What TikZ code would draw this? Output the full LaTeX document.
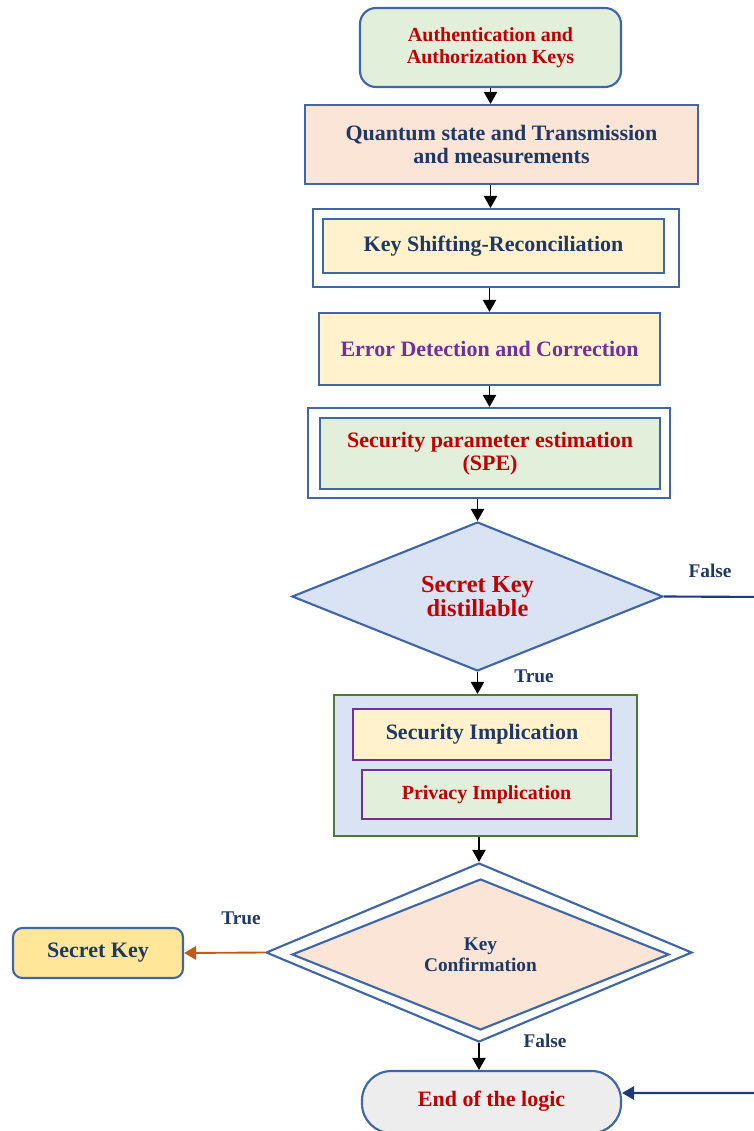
\documentclass[tikz,border=0pt]{standalone}
\usepackage{fontspec}
\setmainfont{Liberation Serif}
\usetikzlibrary{shapes.geometric,arrows.meta}
\definecolor{bordblue}{HTML}{3F67A8}
\definecolor{tred}{HTML}{C00000}
\definecolor{tnavy}{HTML}{1F3864}
\definecolor{tpurple}{HTML}{7030A0}
\definecolor{lgreen}{HTML}{E2EFDA}
\definecolor{peach}{HTML}{FBE5D6}
\definecolor{cream}{HTML}{FFF2CC}
\definecolor{lblue}{HTML}{DAE3F3}
\definecolor{gold}{HTML}{FFE699}
\definecolor{lgrey}{HTML}{EDEDED}
\definecolor{orangearr}{HTML}{C55A11}
\definecolor{dgreen}{HTML}{4E7A36}
\definecolor{navyline}{HTML}{1F3A78}
\begin{document}
\begin{tikzpicture}[x=0.75pt,y=-0.75pt,
  box/.style={draw=bordblue, line width=1.6pt, inner sep=0pt, align=center, rectangle},
  dia/.style={draw=bordblue, line width=1.6pt, inner sep=0pt, align=center, diamond, aspect=2.5},
  arr/.style={draw=black, line width=0.8pt, -{Triangle[width=10pt,length=9pt]}},
  lbl/.style={text=tnavy, font=\bfseries\fontsize{14.5}{15}\selectfont},
  fa/.style={font=\bfseries\fontsize{16.5}{17.5}\selectfont},
]
\useasboundingbox (0,0) rectangle (753,1131);

\node[box, rounded corners=12pt, fill=lgreen, minimum width=261*0.75pt, minimum height=79*0.75pt, text=tred, font=\bfseries\fontsize{15}{16.5}\selectfont] (auth) at (490.5,47.5) {Authentication and\\Authorization Keys};

\node[box, fill=peach, minimum width=393*0.75pt, minimum height=79*0.75pt, text=tnavy, fa] (quant) at (501.5,144.5) {Quantum state and Transmission\\and measurements};

\node[box, fill=white, minimum width=366*0.75pt, minimum height=78*0.75pt] (kso) at (496,248) {};
\node[box, fill=cream, minimum width=341*0.75pt, minimum height=54*0.75pt, text=tnavy, fa] (ks) at (493.5,246) {Key Shifting-Reconciliation};

\node[box, fill=cream, minimum width=341*0.75pt, minimum height=72*0.75pt, text=tpurple, fa] (err) at (489.5,349) {Error Detection and Correction};

\node[box, fill=white, minimum width=362*0.75pt, minimum height=90*0.75pt] (speo) at (489,453) {};
\node[box, fill=lgreen, minimum width=340*0.75pt, minimum height=71*0.75pt, text=tred, fa] (spe) at (490,453.5) {Security parameter estimation\\(SPE)};

\node[dia, fill=lblue, minimum width=371*0.75pt, minimum height=149*0.75pt, text=tred, font=\bfseries\fontsize{18.3}{15.5}\selectfont] (d1) at (477.5,596.5) {Secret Key\\distillable};

\node[box, draw=dgreen, fill=lblue, minimum width=303*0.75pt, minimum height=141*0.75pt] (cont) at (485.5,765.5) {};
\node[box, draw=tpurple, fill=cream, minimum width=258*0.75pt, minimum height=51*0.75pt, text=tnavy, fa] (sec) at (482,734.5) {Security Implication};
\node[box, draw=tpurple, fill=lgreen, minimum width=249*0.75pt, minimum height=49*0.75pt, text=tred, font=\bfseries\fontsize{15}{15}\selectfont] (priv) at (486.5,794.5) {Privacy Implication};

\node[dia, fill=white, minimum width=426*0.75pt, minimum height=179*0.75pt] (d2o) at (479,952.5) {};
\node[dia, fill=peach, minimum width=377*0.75pt, minimum height=151*0.75pt, text=tnavy, font=\bfseries\fontsize{14.5}{16}\selectfont] (d2) at (480.5,954.5) {Key\\Confirmation};

\node[box, rounded corners=7pt, fill=gold, minimum width=170*0.75pt, minimum height=50*0.75pt, text=tnavy, fa] (sk) at (98,953) {\raisebox{-1.5pt}{Secret Key}};

\node[box, rounded corners=22pt, fill=lgrey, minimum width=259*0.75pt, minimum height=62*0.75pt, text=tred, fa] (endn) at (491.5,1102) {\raisebox{5pt}{End of the logic}};

% connectors
\draw[arr] (auth.south) -- (auth.south |- quant.north);
\draw[arr] (auth.south |- quant.south) -- (auth.south |- kso.north);
\draw[arr] (err.north |- kso.south) -- (err.north);
\draw[arr] (err.south) -- (err.south |- speo.north);
\draw[arr] (d1.north |- speo.south) -- (d1.north);
\draw[arr] (d1.south) -- (d1.south |- cont.north);
\draw[arr] (d2o.north |- cont.south) -- (d2o.north);
\draw[arr] (d2o.south) -- (d2o.south |- endn.north);
\draw[draw=orangearr, line width=1.4pt, -{Triangle[width=10pt,length=9pt]}] (d2o.west) -- (sk.east);
\coordinate (fr) at (770,597);
\draw[draw=navyline, line width=1.6pt, -{Triangle[width=10pt,length=9pt]}] (d1.east) -- (fr) -- (fr |- 0,1093) -- ([yshift=6.75pt]endn.east);

% labels
\node[lbl] (lf1) at (710,571) {False};
\node[lbl] (lt1) at (534,676) {True};
\node[lbl] (lt2) at (241,918) {True};
\node[lbl] (lf2) at (545,1041) {False};
\end{tikzpicture}
\end{document}
